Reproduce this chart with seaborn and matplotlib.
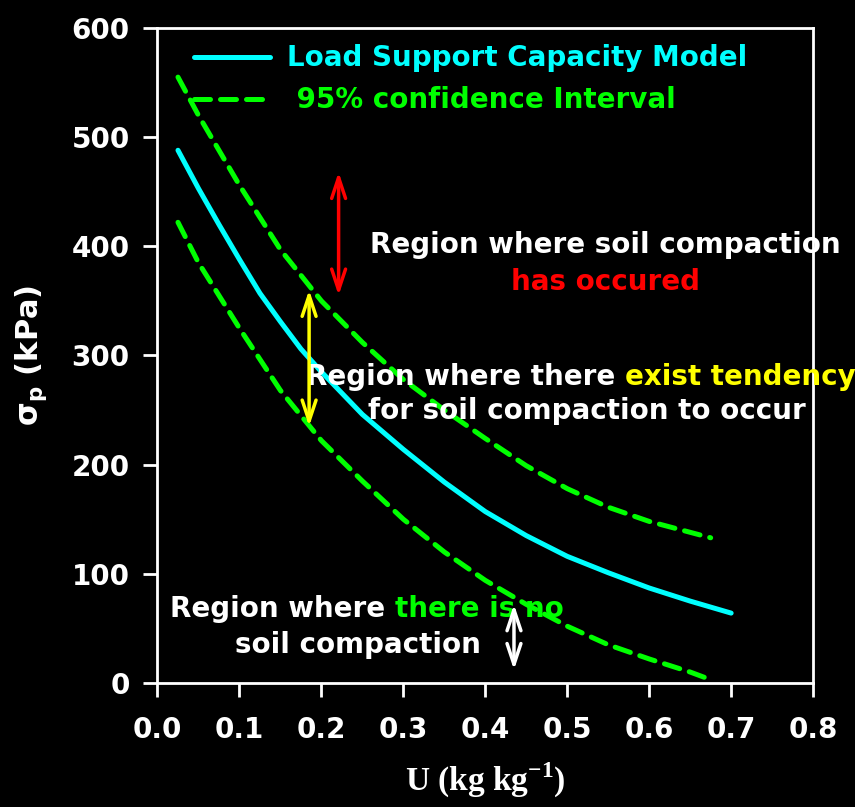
import matplotlib
matplotlib.use("Agg")
import matplotlib.pyplot as plt
import seaborn as sns
import pandas as pd

# Moisture content U (kg kg-1) and precompression stress (kPa)
u_model = [0.025, 0.05, 0.075, 0.10, 0.125, 0.15, 0.175, 0.20, 0.25, 0.30, 0.35, 0.40,
           0.45, 0.50, 0.55, 0.60, 0.65, 0.70]
sigma_model = [488, 453, 420, 388, 357, 331, 306, 285, 246, 214, 184, 157,
               135, 116, 101, 87, 75, 64]

u_ci = [0.025, 0.05, 0.10, 0.15, 0.20, 0.25, 0.30, 0.35, 0.40, 0.45, 0.50, 0.55,
        0.60, 0.65, 0.675]
sigma_upper = [555, 520, 456, 397, 350, 312, 278, 250, 224, 199, 178, 161,
               148, 138, 133]
sigma_lower = [422, 385, 325, 268, 222, 185, 150, 120, 94, 72, 52, 35,
               22, 10, 3]

x_ticks = [0.0, 0.1, 0.2, 0.3, 0.4, 0.5, 0.6, 0.7, 0.8]
y_ticks = [0, 100, 200, 300, 400, 500, 600]

model_label = "Load Support Capacity Model"
ci_label = " 95% confidence Interval"

CYAN = "#00FFFF"
GREEN = "#00FF00"
RED = "#FF0000"
YELLOW = "#FFFF00"
WHITE = "#FFFFFF"

sns.set_style("ticks", {
    "axes.facecolor": "black",
    "figure.facecolor": "black",
    "axes.edgecolor": WHITE,
    "xtick.color": WHITE,
    "ytick.color": WHITE,
    "text.color": WHITE,
    "axes.labelcolor": WHITE,
})
plt.rcParams["font.family"] = ["DejaVu Sans"]
plt.rcParams["font.weight"] = "bold"
plt.rcParams["mathtext.fontset"] = "custom"
plt.rcParams["mathtext.rm"] = "Liberation Serif:bold"
plt.rcParams["mathtext.sf"] = "DejaVu Sans:bold"

df_model = pd.DataFrame({"U": u_model, "sigma": sigma_model})
df_ci = pd.DataFrame({"U": u_ci, "upper": sigma_upper, "lower": sigma_lower})

fig = plt.figure(figsize=(8.55, 8.07), dpi=100)
ax = fig.add_axes([0.1842, 0.1537, 0.7668, 0.8116])
ax.set_facecolor("black")

dash = (0, (3.2, 2.0))
sns.lineplot(data=df_model, x="U", y="sigma", ax=ax, color=CYAN, lw=3.6,
             label=model_label, solid_capstyle="round")
sns.lineplot(data=df_ci, x="U", y="upper", ax=ax, color=GREEN, lw=3.6,
             linestyle=dash, dash_capstyle="round", label=ci_label)
sns.lineplot(data=df_ci, x="U", y="lower", ax=ax, color=GREEN, lw=3.6,
             linestyle=dash, dash_capstyle="round", label="_nolegend_")

ax.set_xlim(0, 0.8)
ax.set_ylim(0, 600)
ax.set_xticks(x_ticks)
ax.set_xticklabels([f"{t:.1f}" for t in x_ticks])
ax.set_yticks(y_ticks)
ax.set_yticklabels([str(t) for t in y_ticks])

for side in ["left", "right", "top", "bottom"]:
    ax.spines[side].set_visible(True)
    ax.spines[side].set_color(WHITE)
    ax.spines[side].set_linewidth(2.0)
ax.tick_params(axis="both", direction="out", length=10, width=2.0,
               labelsize=20, colors=WHITE)
ax.tick_params(axis="x", pad=14)
ax.tick_params(axis="y", pad=10)
for lab in ax.get_xticklabels() + ax.get_yticklabels():
    lab.set_fontweight("bold")

ax.set_xlabel("U (kg kg$^{\\mathrm{-1}}$)", family=["Liberation Serif"],
              fontsize=24, fontweight="bold", labelpad=12)
ax.set_ylabel("σ$_{\\mathsf{p}}$ (kPa)", fontsize=22, fontweight="bold", labelpad=16)

leg = ax.legend(loc="upper left", bbox_to_anchor=(0.055, 0.975), frameon=False,
                prop={"size": 20, "weight": "bold"}, labelcolor="linecolor",
                handlelength=2.75, handletextpad=0.6, labelspacing=0.5,
                borderpad=0, borderaxespad=0)

fs = 20
# Region above the upper confidence band
ax.text(0.547, 401, "Region where soil compaction", ha="center", va="center",
        fontsize=fs, fontweight="bold", color=WHITE)
ax.text(0.547, 367, "has occured", ha="center", va="center",
        fontsize=fs, fontweight="bold", color=RED)

# Region inside the band
t1 = ax.text(0.181, 280, "Region where there ", ha="left", va="center",
             fontsize=fs, fontweight="bold", color=WHITE)
ax.annotate("exist tendency", xy=(1, 0), xycoords=t1, ha="left", va="bottom",
            fontsize=fs, fontweight="bold", color=YELLOW)
ax.text(0.524, 249, "for soil compaction to occur", ha="center", va="center",
        fontsize=fs, fontweight="bold", color=WHITE)

# Region below the lower band
t2 = ax.text(0.015, 68, "Region where ", ha="left", va="center",
             fontsize=fs, fontweight="bold", color=WHITE)
ax.annotate("there is no", xy=(1, 0), xycoords=t2, ha="left", va="bottom",
            fontsize=fs, fontweight="bold", color=GREEN)
ax.text(0.244, 35, "soil compaction", ha="center", va="center",
        fontsize=fs, fontweight="bold", color=WHITE)

# Double-headed arrows marking each region
arrow_kw = dict(arrowstyle="<->,head_length=1.5,head_width=0.5", lw=2.5,
                shrinkA=0, shrinkB=0)
ax.annotate("", xy=(0.221, 468), xytext=(0.221, 355),
            arrowprops=dict(color=RED, **arrow_kw))
ax.annotate("", xy=(0.185, 360), xytext=(0.185, 235),
            arrowprops=dict(color=YELLOW, **arrow_kw))
ax.annotate("", xy=(0.435, 72), xytext=(0.435, 12),
            arrowprops=dict(color=WHITE, **arrow_kw))

fig.savefig("out.png", dpi=100, facecolor="black")
